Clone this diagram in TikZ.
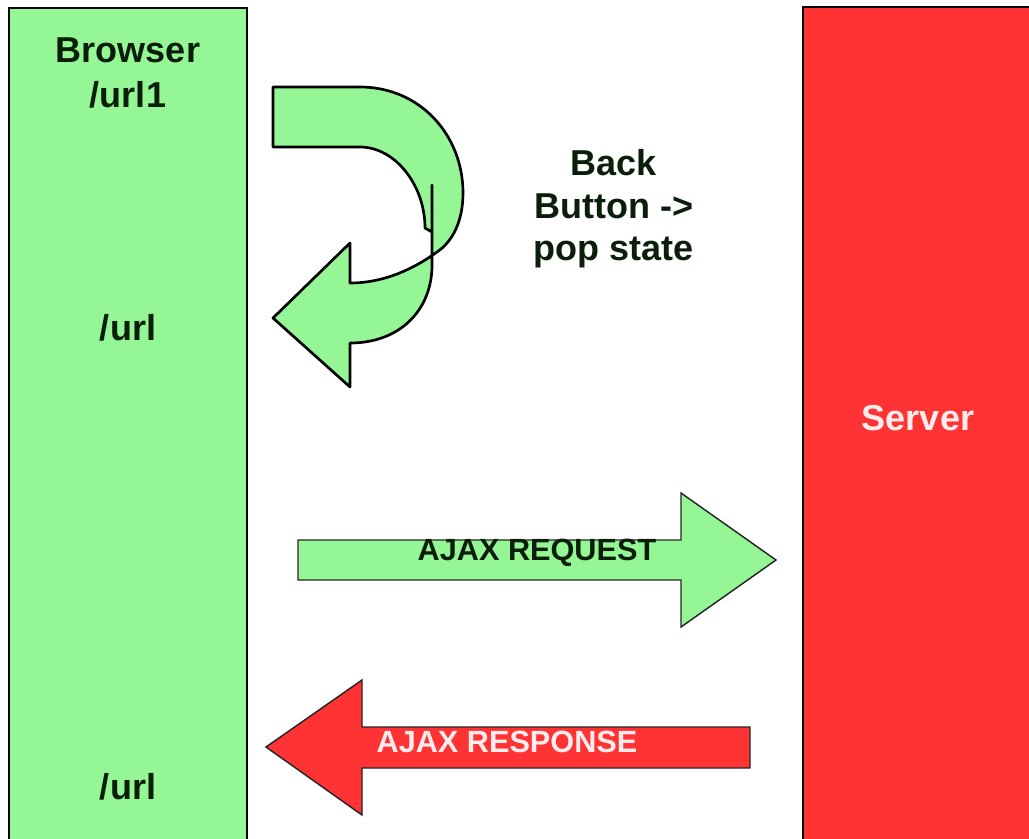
\documentclass[tikz,border=0pt]{standalone}
\usepackage{fontspec}
\setmainfont{Liberation Sans}
\definecolor{lgreen}{RGB}{148,246,148}
\definecolor{sred}{RGB}{255,51,51}
\definecolor{ink}{RGB}{10,30,10}
\definecolor{pinkwhite}{RGB}{255,236,236}
\begin{document}
\begin{tikzpicture}[x=0.75pt,y=-0.75pt,
  outline/.style={draw=black, line width=1.5pt, line join=miter},
  thickoutline/.style={draw=black, line width=2pt, line join=round},
  thinoutline/.style={draw=black!85, line width=1.1pt, line join=miter},
  lbl/.style={font=\fontsize{27}{33}\selectfont\bfseries, text=ink, align=center, inner sep=0pt},
  ajax/.style={font=\fontsize{23}{28}\selectfont\bfseries, inner sep=0pt}]
\useasboundingbox (0,0) rectangle (1029,839);
\fill[white] (0,0) rectangle (1029,839);
\begin{scope}
\clip (0,0) rectangle (1029,839);
% browser column
\draw[outline, fill=lgreen] (9,8) rectangle (247,860);
% server column
\draw[outline, fill=sred] (803,7) rectangle (1040,860);
\end{scope}

% labels
\node[lbl, font=\fontsize{27}{34}\selectfont\bfseries] (browser) at (128,73) {Browser\\/url1};
\node[lbl] (urlmid) at (128,328) {/url};
\node[lbl] (urlbot) at (128,787) {/url};
\node[lbl, font=\fontsize{27}{32}\selectfont\bfseries] (back) at (614,209) {Back\\Button ->\\pop state};
\node[lbl, text=pinkwhite] (server) at (918,418) {Server};

% curved back-button arrow
\draw[thickoutline, fill=lgreen]
  (273,87) -- (360,87)
  .. controls (420,87) and (463,135) .. (463,193)
  .. controls (463,222) and (452,242) .. (437,252)
  .. controls (415,268) and (385,283) .. (350,283)
  -- (350,243) -- (273,318) -- (350,387) -- (350,343)
  .. controls (400,343) and (432,310) .. (432,265)
  -- (432,185) -- (432,232) -- (425,228)
  .. controls (425,185) and (395,147) .. (360,147)
  -- (273,147) -- cycle;

% AJAX request arrow
\draw[thinoutline, fill=lgreen]
  (298,540) -- (681,540) -- (681,493) -- (776,560) -- (681,627) -- (681,580) -- (298,580) -- cycle;
\node[ajax, text=ink] (req) at (537,553) {AJAX REQUEST};

% AJAX response arrow
\draw[thinoutline, fill=sred]
  (750,727) -- (362,727) -- (362,680) -- (266,747) -- (362,815) -- (362,768) -- (750,768) -- cycle;
\node[ajax, text=pinkwhite] (resp) at (507,742) {AJAX RESPONSE};
\end{tikzpicture}
\end{document}
